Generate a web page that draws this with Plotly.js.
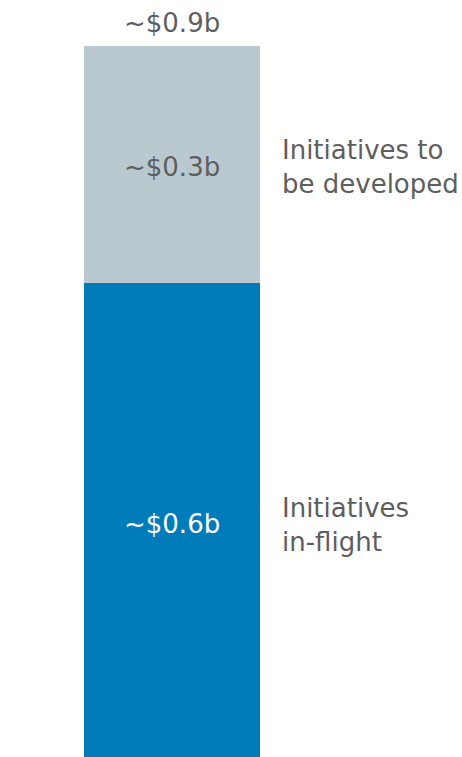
<!DOCTYPE html>
<html>
<head>
<meta charset="utf-8">
<script src="https://cdn.plot.ly/plotly-3.0.1.min.js"></script>
<style>html,body{margin:0;padding:0;background:#fff;}#chart{width:462px;height:757px;}</style>
</head>
<body>
<div id="chart"></div>
<script>
const categories = ["Total"];
const seriesNames = ["Initiatives in-flight", "Initiatives to be developed"];
const seriesLegend = ["Initiatives<br>in-flight", "Initiatives to<br>be developed"];
const valuesInFlight = [0.6];
const valuesToDevelop = [0.3];
const segmentLabels = ["~$0.6b", "~$0.3b"];
const totalLabel = "~$0.9b";
const totalValue = [0.9];

const FONT = "DejaVu Sans, Verdana, sans-serif";
const GREY = "#5E5E5E";
const SIZE = 26;
const traces = [
  {
    type: "bar", name: seriesNames[0], x: categories, y: valuesInFlight,
    marker: {color: "#007CBA"}, hoverinfo: "none"
  },
  {
    type: "bar", name: seriesNames[1], x: categories, y: valuesToDevelop,
    marker: {color: "#BAC8D0"}, hoverinfo: "none"
  }
];
const annotations = [
  {xref: "x", yref: "y", x: categories[0], y: totalValue[0], text: totalLabel, showarrow: false,
   yanchor: "bottom", yshift: 6, font: {family: FONT, size: SIZE, color: GREY}},
  {xref: "x", yref: "y", x: categories[0], y: valuesInFlight[0] / 2, text: segmentLabels[0], showarrow: false,
   yshift: -4, font: {family: FONT, size: SIZE, color: "#FFFFFF"}},
  {xref: "x", yref: "y", x: categories[0], y: valuesInFlight[0] + valuesToDevelop[0] / 2, text: segmentLabels[1], showarrow: false,
   yshift: -2, font: {family: FONT, size: SIZE, color: GREY}},
  {xref: "paper", yref: "y", x: 1, y: valuesInFlight[0] / 2, text: seriesLegend[0], showarrow: false,
   xanchor: "left", align: "left", xshift: 20, yshift: -5, font: {family: FONT, size: SIZE, color: GREY}},
  {xref: "paper", yref: "y", x: 1, y: valuesInFlight[0] + valuesToDevelop[0] / 2, text: seriesLegend[1], showarrow: false,
   xanchor: "left", align: "left", xshift: 20, yshift: -2, font: {family: FONT, size: SIZE, color: GREY}}
];
const layout = {
  width: 462, height: 757,
  margin: {l: 84, r: 202, t: 46, b: 0, pad: 0},
  barmode: "stack", bargap: 0, showlegend: false,
  paper_bgcolor: "#FFFFFF", plot_bgcolor: "#FFFFFF",
  xaxis: {visible: false, range: [-0.5, 0.5]},
  yaxis: {visible: false, range: [0, totalValue[0]]},
  annotations: annotations,
  font: {family: FONT}
};
Plotly.newPlot("chart", traces, layout, {staticPlot: true, displayModeBar: false});
</script>
</body>
</html>
